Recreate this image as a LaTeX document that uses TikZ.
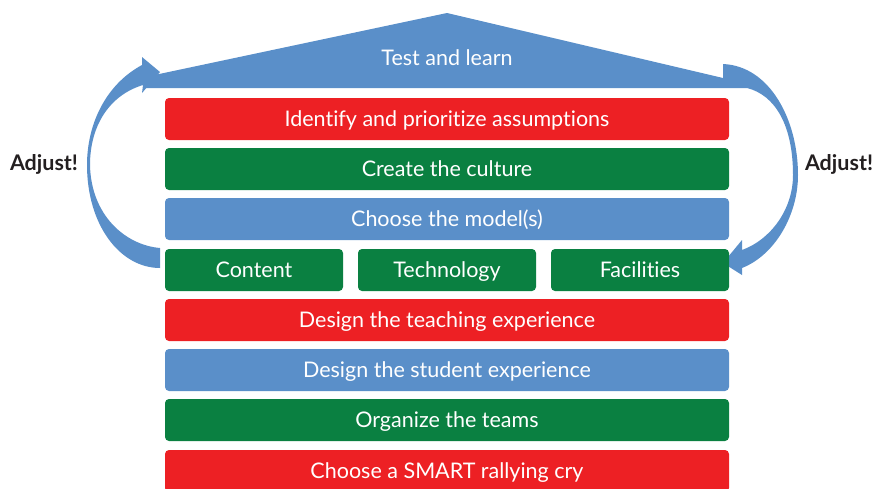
\documentclass[tikz,border=0pt]{standalone}
\usepackage{fontspec}
\setmainfont{Lato}[Ligatures={NoCommon}]
\definecolor{cred}{HTML}{ED2024}
\definecolor{cgreen}{HTML}{0A8041}
\definecolor{cblue}{HTML}{5A8FC9}
\definecolor{cblack}{HTML}{231F20}
\begin{document}
\begin{tikzpicture}[x=1pt,y=-1pt,
  lbl/.style={font=\fontsize{21.5}{24}\selectfont, text height=15.5pt, text depth=0pt, inner sep=0pt},
  bar/.style={lbl, rounded corners=4pt, minimum height=42pt, text=white},
  wide/.style={bar, minimum width=564pt},
  small/.style={bar, minimum width=178pt},
  adj/.style={lbl, text=cblack, font=\bfseries\fontsize{21.5}{24}\selectfont}]
\useasboundingbox (0,0) rectangle (876,488);
% roof and right arrow
\fill[cblue] (145,88) -- (145,77) -- (447,13) -- (723,78) -- (723,64)
  .. controls (770,66) and (798,120) .. (798,175)
  .. controls (798,215) and (775,255) .. (742,268)
  -- (742,275) -- (723,263) -- (742,240) -- (742,250)
  .. controls (770,240) and (793,210) .. (793,175)
  .. controls (793,125) and (775,95) .. (747,88) -- cycle;
% left arrow
\fill[cblue] (160,268) .. controls (120,268) and (87,225) .. (87,165)
  .. controls (87,125) and (105,85) .. (142,65)
  -- (142,57) -- (160,72) -- (142,93) -- (143,85)
  .. controls (110,95) and (90,125) .. (90,165)
  .. controls (91,215) and (125,245) .. (160,248) -- cycle;
\node[lbl, text=white] (roof) at (447,58) {Test and learn};
\node[adj] (adjl) at (44,163) {Adjust!};
\node[adj] (adjr) at (839,163) {Adjust!};
\node[wide, fill=cred] (r1) at (447,119) {Identify and prioritize assumptions};
\node[wide, fill=cgreen] (r2) at (447,169) {Create the culture};
\node[wide, fill=cblue] (r3) at (447,219) {Choose the model(s)};
\node[small, fill=cgreen] (r4a) at (254,270) {Content};
\node[small, fill=cgreen] (r4b) at (447,270) {Technology};
\node[small, fill=cgreen] (r4c) at (640,270) {Facilities};
\node[wide, fill=cred] (r5) at (447,320) {Design the teaching experience};
\node[wide, fill=cblue] (r6) at (447,370) {Design the student experience};
\node[wide, fill=cgreen] (r7) at (447,420) {Organize the teams};
\node[wide, fill=cred] (r8) at (447,471) {Choose a SMART rallying cry};
\end{tikzpicture}
\end{document}
